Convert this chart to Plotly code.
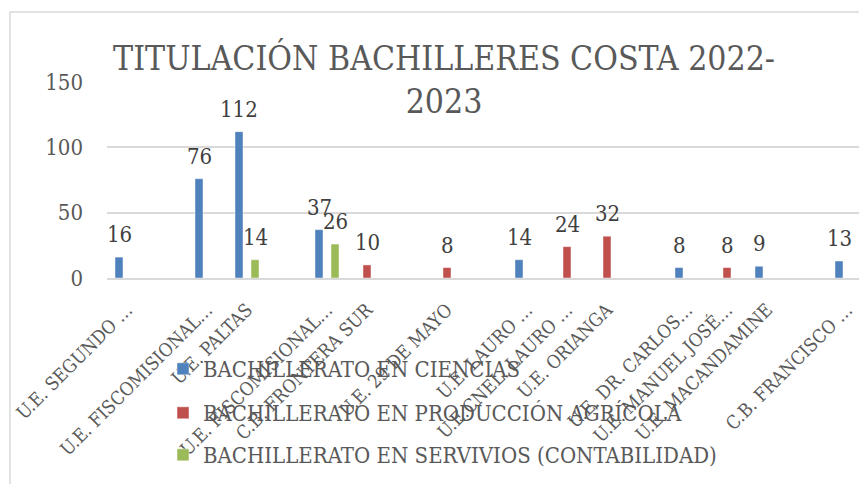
import plotly.graph_objects as go

# ---- data ----
categories = [
    "U.E. SEGUNDO …", "", "U.E. FISCOMISIONAL…", "U.E. PALTAS", "",
    "U.E. FISCOMISIONAL…", "C.B. FRONTERA SUR", "", "U.E. 29 DE MAYO", "",
    "U.E. LAURO …", "U.E.CNEL. LAURO …", "U.E. ORIANGA", "",
    "U.E. DR. CARLOS…", "U.E. MANUEL JOSÉ…", "U.E. MACANDAMINE", "",
    "C.B. FRANCISCO …",
]
ciencias = [16, None, 76, 112, None, 37, None, None, None, None, 14, None, None, None, 8, None, 9, None, 13]
produccion = [None, None, None, None, None, None, 10, None, 8, None, None, 24, 32, None, None, 8, None, None, None]
servicios = [None, None, None, 14, None, 26, None, None, None, None, None, None, None, None, None, None, None, None, None]

series_names = [
    "BACHILLERATO EN CIENCIAS",
    "BACHILLERATO EN PRODUCCIÓN AGRÍCOLA",
    "BACHILLERATO EN SERVIVIOS (CONTABILIDAD)",
]
series_values = [ciencias, produccion, servicios]
series_colors = ["#4F81BD", "#C0504D", "#9BBB59"]
y_ticks = [0, 50, 100, 150]

FONT = "'DejaVu Serif Condensed', 'Liberation Serif', serif"
GRAY = "#595959"

x_idx = list(range(len(categories)))
fig = go.Figure()

bargap = 0.4
bar_w = (1 - bargap) / 3
legends = ["legend", "legend2", "legend3"]
for k, (name, vals, col) in enumerate(zip(series_names, series_values, series_colors)):
    fig.add_trace(go.Bar(
        x=x_idx, y=vals, name=name, marker_color=col,
        marker_line=dict(color="rgba(255,255,255,0.45)", width=1),
        legend=legends[k],
    ))
    off = (k - 1) * bar_w
    for xi, v in zip(x_idx, vals):
        if v is None:
            continue
        fig.add_annotation(
            x=xi + off, y=v, text=str(v), showarrow=False,
            xref="x", yref="y", yanchor="bottom", yshift=8,
            font=dict(family=FONT, size=22, color="#404040"),
        )

# chart-area frame (cropped at right and bottom)
fig.add_shape(type="path", xref="paper", yref="paper",
              path="M -0.1276,-1.1 L -0.1276,1.357 L 1.1,1.357",
              line=dict(color="#d9d9d9", width=1.5))

fig.update_layout(
    width=859, height=476,
    margin=dict(l=99, r=0, t=74, b=206, autoexpand=False),
    paper_bgcolor="white", plot_bgcolor="white",
    barmode="group", bargap=bargap, bargroupgap=0,
    title=dict(
        text="TITULACIÓN BACHILLERES COSTA 2022-<br>2023",
        x=0.5076, xanchor="center", xref="container",
        y=0.87, yanchor="top", yref="container",
        font=dict(family=FONT, size=33.5, color=GRAY),
    ),
    font=dict(family=FONT, size=20, color=GRAY),
    xaxis=dict(
        tickmode="array", tickvals=x_idx, ticktext=categories,
        tickangle=-45, range=[-0.5, len(categories) - 0.5],
        showline=True, linecolor="#d9d9d9", linewidth=1.5,
        showgrid=False, zeroline=False, ticks="", automargin=False,
        ticklabeloverflow="allow", ticklabelstandoff=12,
        tickfont=dict(family=FONT, size=18.5, color=GRAY),
    ),
    yaxis=dict(
        range=[0, 150], tickvals=y_ticks,
        showgrid=True, gridcolor="#d9d9d9", gridwidth=1.5,
        zeroline=False, showline=False, ticks="", automargin=False,
        ticklabelstandoff=23, ticklabeloverflow="allow",
        tickfont=dict(family=FONT, size=22, color=GRAY),
    ),
    showlegend=True,
)

leg_common = dict(xref="paper", yref="paper", xanchor="left", yanchor="middle",
                  bgcolor="rgba(0,0,0,0)", borderwidth=0,
                  font=dict(family=FONT, size=22, color=GRAY))
lx = (163 - 107) / 760
fig.update_layout(
    legend=dict(x=lx, y=(278 - 369) / 196, **leg_common),
    legend2=dict(x=lx, y=(278 - 413) / 196, **leg_common),
    legend3=dict(x=lx, y=(278 - 455) / 196, **leg_common),
)

fig.write_html("out.html")
